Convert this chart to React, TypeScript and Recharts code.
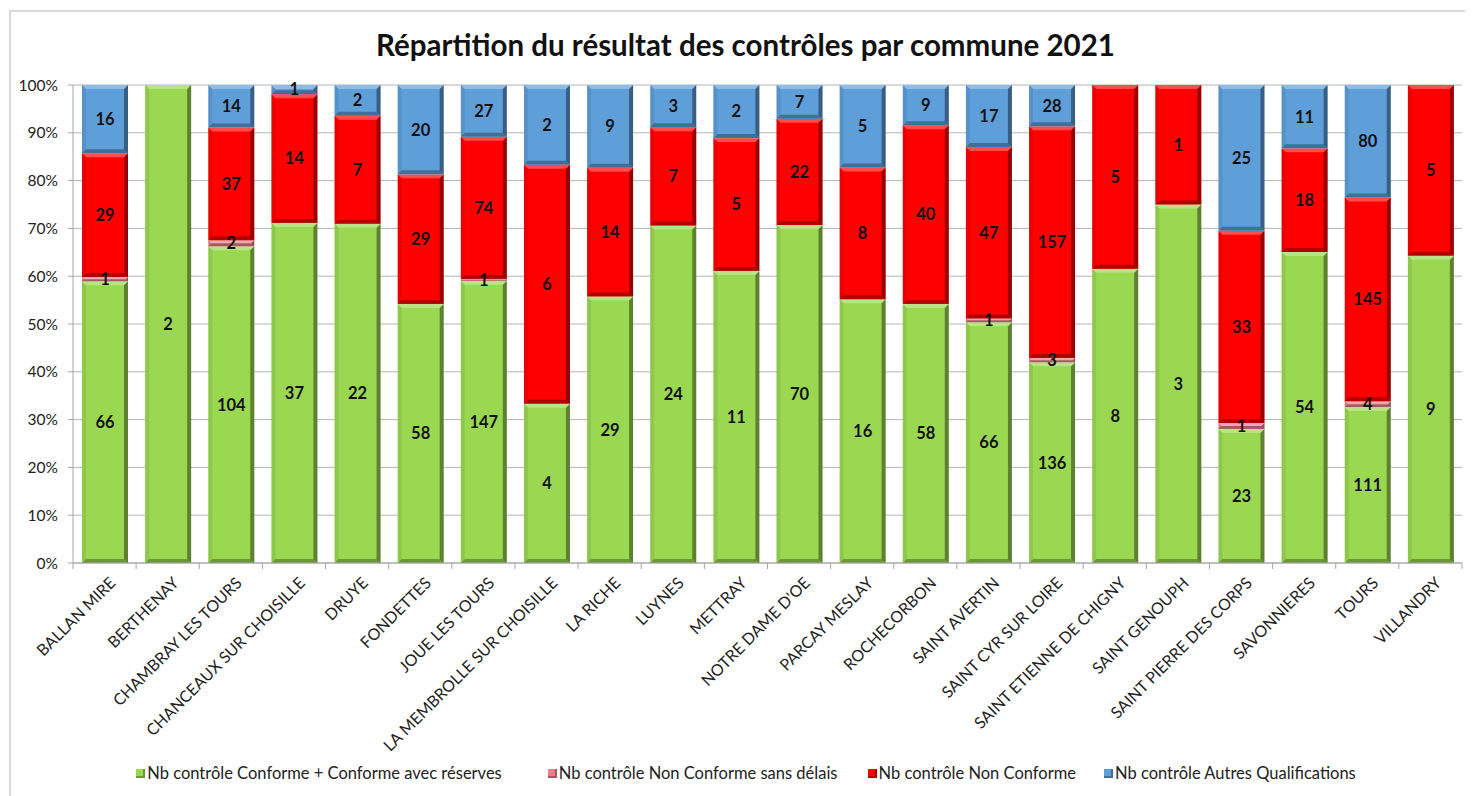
import { BarChart, Bar, XAxis, YAxis, CartesianGrid, Legend, LabelList } from "recharts";

const communes = [
  "BALLAN MIRE", "BERTHENAY", "CHAMBRAY LES TOURS", "CHANCEAUX SUR CHOISILLE", "DRUYE",
  "FONDETTES", "JOUE LES TOURS", "LA MEMBROLLE SUR CHOISILLE", "LA RICHE", "LUYNES",
  "METTRAY", "NOTRE DAME D'OE", "PARCAY MESLAY", "ROCHECORBON", "SAINT AVERTIN",
  "SAINT CYR SUR LOIRE", "SAINT ETIENNE DE CHIGNY", "SAINT GENOUPH", "SAINT PIERRE DES CORPS",
  "SAVONNIERES", "TOURS", "VILLANDRY",
];
const conforme = [66, 2, 104, 37, 22, 58, 147, 4, 29, 24, 11, 70, 16, 58, 66, 136, 8, 3, 23, 54, 111, 9];
const ncSansDelais = [1, 0, 2, 0, 0, 0, 1, 0, 0, 0, 0, 0, 0, 0, 1, 3, 0, 0, 1, 0, 4, 0];
const nonConforme = [29, 0, 37, 14, 7, 29, 74, 6, 14, 7, 5, 22, 8, 40, 47, 157, 5, 1, 33, 18, 145, 5];
const autres = [16, 0, 14, 1, 2, 20, 27, 2, 9, 3, 2, 7, 5, 9, 17, 28, 0, 0, 25, 11, 80, 0];
const yTicks = [0, 0.1, 0.2, 0.3, 0.4, 0.5, 0.6, 0.7, 0.8, 0.9, 1];

const SERIES = [
  { key: "conforme", name: "Nb contrôle Conforme + Conforme avec réserves", color: "#9bd852" },
  { key: "ncSansDelais", name: "Nb contrôle Non Conforme sans délais", color: "#e8818a" },
  { key: "nonConforme", name: "Nb contrôle Non Conforme", color: "#ff0000" },
  { key: "autres", name: "Nb contrôle Autres Qualifications", color: "#5e9fda" },
];
const legendGaps = [0, 46, 30, 28];

const data = communes.map((c, i) => ({
  commune: c,
  conforme: conforme[i],
  ncSansDelais: ncSansDelais[i],
  nonConforme: nonConforme[i],
  autres: autres[i],
}));

const FONT = "Lato, 'Open Sans', sans-serif";
const PLOT_LEFT = 65;
const PLOT_RIGHT = 1454;
const STEP = (PLOT_RIGHT - PLOT_LEFT) / communes.length;

// excel-ish bevelled bar
function BevelBar(props: any) {
  const { x, y, width, height, fill } = props;
  if (!height || height <= 0) return null;
  const b = Math.min(4, height / 2);
  return (
    <g>
      <rect x={x} y={y} width={width} height={height} fill={fill} />
      <polygon points={`${x + width - b},${y + b} ${x + width},${y} ${x + width},${y + height} ${x + width - b},${y + height - b}`} fill="#000" opacity={0.4} />
      <polygon points={`${x},${y + height} ${x + b},${y + height - b} ${x + width - b},${y + height - b} ${x + width},${y + height}`} fill="#000" opacity={0.3} />
      <polygon points={`${x},${y} ${x + width},${y} ${x + width - b},${y + b} ${x + b},${y + b}`} fill="#fff" opacity={0.3} />
      <polygon points={`${x},${y} ${x + b},${y + b} ${x + b},${y + height - b} ${x},${y + height}`} fill="#000" opacity={0.08} />
    </g>
  );
}

function CategoryTick(props: any) {
  const { x, y, payload, index } = props;
  const axisY = y - 6;
  const left = x - STEP / 2;
  const tx = x + 12;
  const ty = axisY + 21;
  return (
    <g>
      <line x1={left} y1={axisY} x2={left} y2={axisY + 6} stroke="#a6a6a6" />
      {index === communes.length - 1 && (
        <line x1={x + STEP / 2} y1={axisY} x2={x + STEP / 2} y2={axisY + 6} stroke="#a6a6a6" />
      )}
      <text
        x={tx}
        y={ty}
        textAnchor="end"
        transform={`rotate(-45, ${tx}, ${ty})`}
        fontSize={16}
        fontFamily={FONT}
        fill="#222"
      >
        {payload.value}
      </text>
    </g>
  );
}

const valueLabel = (v: any) => (v ? v : "");

function LegendContent() {
  return (
    <div style={{ display: "flex", justifyContent: "center", fontFamily: FONT, fontSize: 16.5, color: "#222", paddingLeft: 22 }}>
      {SERIES.map((s, i) => (
        <div key={s.key} style={{ display: "flex", alignItems: "center", marginLeft: legendGaps[i] }}>
          <span style={{ display: "inline-block", width: 9, height: 9, background: s.color, marginRight: 2, boxShadow: "inset -2px -2px 0 rgba(0,0,0,0.3)" }} />
          {s.name}
        </div>
      ))}
    </div>
  );
}

export default function App() {
  return (
    <div style={{ position: "relative", width: 1465, height: 788 }}>
      <div style={{ position: "absolute", left: 1, top: 2, right: -20, bottom: -20, borderLeft: "2px solid #d9d9d9", borderTop: "2px solid #d9d9d9" }} />
      <div style={{ position: "absolute", left: 0, width: 1475, top: 19, textAlign: "center", fontFamily: FONT, fontWeight: 700, fontSize: 29.5, color: "#111" }}>
        Répartition du résultat des contrôles par commune 2021
      </div>
      <BarChart
        width={1465}
        height={788}
        data={data}
        stackOffset="expand"
        barSize={46}
        margin={{ top: 77, right: 11, left: 0, bottom: 9 }}
      >
        <CartesianGrid vertical={false} stroke="#b5b5b5" />
        <XAxis
          dataKey="commune"
          interval={0}
          height={200}
          tickLine={false}
          tickSize={6}
          tickMargin={0}
          axisLine={{ stroke: "#a6a6a6" }}
          tick={<CategoryTick />}
        />
        <YAxis
          width={65}
          domain={[0, 1]}
          ticks={yTicks}
          tickFormatter={(v) => `${Math.round(v * 100)}%`}
          tick={{ fill: "#222", fontSize: 15.5, fontFamily: FONT }}
          tickSize={5}
          tickMargin={10}
          tickLine={{ stroke: "#a6a6a6" }}
          axisLine={{ stroke: "#a6a6a6" }}
        />
        <Legend verticalAlign="bottom" height={24} content={<LegendContent />} />
        {SERIES.map((s) => (
          <Bar key={s.key} dataKey={s.key} name={s.name} stackId="a" fill={s.color} shape={<BevelBar />} isAnimationActive={false}>
            <LabelList
              dataKey={s.key}
              position="center"
              formatter={valueLabel}
              style={{ fill: "#111", fontSize: 16.5, fontWeight: 700, fontFamily: FONT }}
            />
          </Bar>
        ))}
      </BarChart>
    </div>
  );
}
